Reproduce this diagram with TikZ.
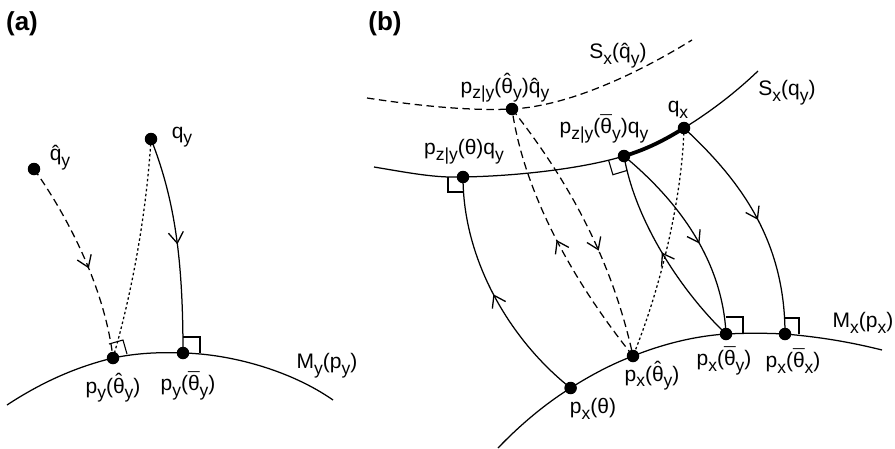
\documentclass[tikz,border=0pt]{standalone}
\usepackage{fontspec}
\setmainfont{Liberation Sans}
\usetikzlibrary{arrows.meta,decorations.markings}
\newcommand{\sbs}[1]{\raisebox{-0.27em}{\fontsize{17.5}{18}\selectfont #1}}
\newcommand{\myacc}[3]{{\setbox0\hbox{#3}\setbox2\hbox{\raisebox{#2}{#1}}\hbox to\wd0{\hss\box2\hss}\kern-\wd0\box0}}
\newcommand{\mythh}{\myacc{ˆ}{0.2em}{θ}}
\newcommand{\mythb}{\myacc{¯}{0.13em}{θ}}
\newcommand{\myqh}{\myacc{ˆ}{0em}{q}}
\begin{document}
\begin{tikzpicture}[x=1pt,y=-1pt,
  lbl/.style={font=\fontsize{21}{24}\selectfont, inner sep=0pt},
  plab/.style={font=\fontsize{26}{28}\selectfont\bfseries, inner sep=0pt},
  dot/.style={circle, fill=black, inner sep=0pt, minimum size=12.5pt},
  crv/.style={line width=1.25pt},
  dsh/.style={crv, dash pattern=on 7.5pt off 4.5pt},
  dtt/.style={crv, dash pattern=on 2.5pt off 2.5pt},
  rmark/.style={line width=1.1pt},
  marr/.style={postaction={decorate},decoration={markings,mark=at position #1 with {\arrow{Straight Barb[length=11pt,width=15pt,line width=1.3pt]}}}}
]
\useasboundingbox (0,0) rectangle (895,448);

% ---------- panel (a) ----------
\coordinate (qhy) at (34,169);
\coordinate (qy) at (151,139);
\coordinate (pyh) at (113,358);
\coordinate (pyb) at (183,353);
\coordinate (myl) at (7,405);
\coordinate (myr) at (333,400);

\draw[crv] (myl) .. controls (45,380) and (80,366) .. (pyh)
  .. controls (137,353) and (160,352) .. (pyb)
  .. controls (230,354) and (290,370) .. (myr);
\draw[dsh, marr=0.55] (qhy) .. controls (70,220) and (105,290) .. (pyh);
\draw[dtt] (qy) .. controls (146,220) and (130,300) .. (pyh);
\draw[crv, marr=0.5] (qy) .. controls (175,200) and (183,260) .. (pyb);
\draw[rmark] (127,354) -- (123,340) -- (109,344);
\draw[rmark] (200,353) -- (200,337) -- (183,337);

\node[dot] (Dqhy) at (qhy) {};
\node[dot] (Dqy) at (qy) {};
\node[dot] (Dpyh) at (pyh) {};
\node[dot] (Dpyb) at (pyb) {};

\node[plab] (La) at (22,24) {(a)};
\node[lbl] (Lqhy) at (60,158) {\myqh\sbs{y}};
\node[lbl] (Lqy) at (182,137) {q\sbs{y}};
\node[lbl] (Lpyh) at (113,388) {p\sbs{y}(\mythh\sbs{y})};
\node[lbl] (Lpyb) at (188,386) {p\sbs{y}(\mythb\sbs{y})};
\node[lbl] (Lmy) at (327,366) {M\sbs{y}(p\sbs{y})};

% ---------- panel (b) ----------
\coordinate (pzh) at (512,109);
\coordinate (pzt) at (463,177);
\coordinate (pzb) at (624,156);
\coordinate (qx) at (684,128);
\coordinate (pxt) at (570.6,388);
\coordinate (pxh) at (633,356);
\coordinate (pxby) at (726,334);
\coordinate (pxbx) at (785,334);
\coordinate (shl) at (367,98);
\coordinate (shr) at (692,40);
\coordinate (sql) at (374,167);
\coordinate (sqr) at (758,71);
\coordinate (mxl) at (498,448);
\coordinate (mxr) at (882,350);

% S_x(q^_y)
\draw[dsh] (shl) .. controls (420,106) and (470,111) .. (pzh)
  .. controls (570,106) and (640,72) .. (shr);
% S_x(q_y)
\draw[crv] (sql) .. controls (410,173) and (435,178) .. (pzt)
  .. controls (520,176) and (585,168) .. (pzb)
  .. controls (645,150) and (665,140) .. (qx)
  .. controls (710,112) and (735,93) .. (sqr);
\draw[line width=3.8pt] (pzb) .. controls (645,150) and (665,140) .. (qx);
% M_x(p_x)
\draw[crv] (mxl) .. controls (520,425) and (545,404) .. (pxt)
  .. controls (591,375) and (612,364) .. (pxh)
  .. controls (663,344) and (695,336) .. (pxby)
  .. controls (746,333) and (765,333) .. (pxbx)
  .. controls (820,337) and (850,342) .. (mxr);

% connectors
\draw[crv, marr=0.5] (pxt) .. controls (510,340) and (463,260) .. (pzt);
\draw[dsh, marr=0.5] (pxh) .. controls (580,290) and (525,200) .. (pzh);
\draw[dsh, marr=0.6] (pzh) .. controls (560,170) and (610,250) .. (pxh);
\draw[dtt] (qx) .. controls (682,200) and (660,290) .. (pxh);
\draw[crv, marr=0.5] (pxby) .. controls (680,290) and (635,220) .. (pzb);
\draw[crv, marr=0.55] (pzb) .. controls (665,190) and (722,250) .. (pxby);
\draw[crv, marr=0.5] (qx) .. controls (740,180) and (785,240) .. (pxbx);

% right-angle marks
\draw[rmark] (448,177) -- (448,192) -- (463,192);
\draw[rmark] (608.6,160.3) -- (612.9,174.7) -- (627.3,170.4);
\draw[rmark] (743,334) -- (743,317) -- (726,317);
\draw[rmark] (799,334) -- (799,318) -- (785,318);

\node[dot] (Dpzh) at (pzh) {};
\node[dot] (Dpzt) at (pzt) {};
\node[dot] (Dpzb) at (pzb) {};
\node[dot] (Dqx) at (qx) {};
\node[dot] (Dpxt) at (pxt) {};
\node[dot] (Dpxh) at (pxh) {};
\node[dot] (Dpxby) at (pxby) {};
\node[dot] (Dpxbx) at (pxbx) {};

\node[plab] (Lb) at (385,24) {(b)};
\node[lbl] (Lsh) at (618,56) {S\sbs{x}(\myqh\sbs{y})};
\node[lbl] (Lpzh) at (505,88) {p\sbs{z|y}(\mythh\sbs{y})\myqh\sbs{y}};
\node[lbl] (Lsq) at (787,93) {S\sbs{x}(q\sbs{y})};
\node[lbl] (Lqx) at (678,110) {q\sbs{x}};
\node[lbl] (Lpzb) at (604,129) {p\sbs{z|y}(\mythb\sbs{y})q\sbs{y}};
\node[lbl] (Lpzt) at (464,152) {p\sbs{z|y}(θ)q\sbs{y}};
\node[lbl] (Lmx) at (863,323) {M\sbs{x}(p\sbs{x})};
\node[lbl] (Lpxt) at (593,409) {p\sbs{x}(θ)};
\node[lbl] (Lpxh) at (652,376) {p\sbs{x}(\mythh\sbs{y})};
\node[lbl] (Lpxby) at (724,361) {p\sbs{x}(\mythb\sbs{y})};
\node[lbl] (Lpxbx) at (793,361) {p\sbs{x}(\mythb\sbs{x})};
\end{tikzpicture}
\end{document}
